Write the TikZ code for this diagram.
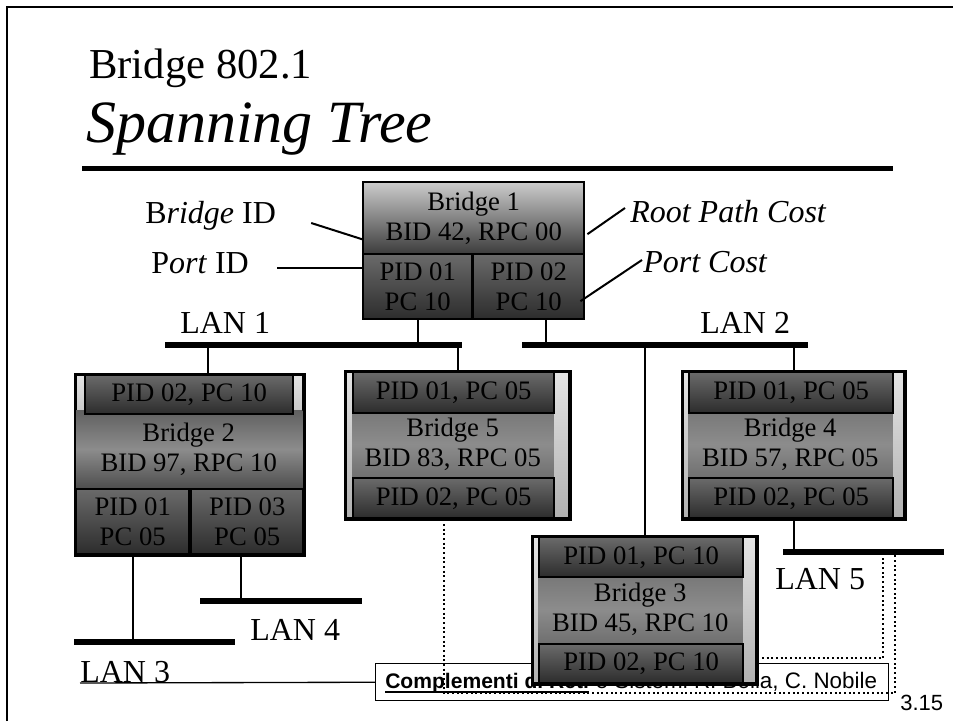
\documentclass[tikz,border=0pt]{standalone}
\usepackage{fontspec}
\setmainfont{Liberation Serif}
\setsansfont{Liberation Sans}
\usetikzlibrary{calc}
\definecolor{RootTop}{HTML}{CCCCCC}
\definecolor{RootBot}{HTML}{3C3C3C}
\definecolor{PortTop}{HTML}{6A6A6A}
\definecolor{PortBot}{HTML}{2C2C2C}
\definecolor{ShellTop}{HTML}{E4E4E4}
\definecolor{ShellBot}{HTML}{B0B0B0}
\definecolor{CoreTop}{HTML}{606060}
\definecolor{CoreMid}{HTML}{8C8C8C}
\definecolor{CoreBot}{HTML}{4E4E4E}
\newcommand\brfont{\fontsize{20}{22.5}\selectfont}
\newcommand\lblfont{\fontsize{24}{28}\selectfont}
\newcommand\px{0.75pt}

\begin{document}
\begin{tikzpicture}[x=0.75pt,y=-0.75pt,
  brbox/.style={anchor=north west,inner sep=0pt,align=center,font=\brfont},
  rootbox/.style={brbox,draw,line width=1.8pt,top color=RootTop,bottom color=RootBot},
  portbox/.style={brbox,draw,line width=1.8pt,top color=PortTop,bottom color=PortBot},
  shell/.style={brbox,draw,line width=1.8pt,top color=ShellTop,bottom color=ShellBot},
  core/.style={brbox,top color=CoreTop,bottom color=CoreBot,middle color=CoreMid},
  frm/.style={line width=1.8pt},
  wire/.style={line width=1.5pt},
  lan/.style={line width=4pt},
  blocked/.style={line width=1.5pt,dotted},
  lbl/.style={font=\lblfont,inner sep=0pt,anchor=base west}]

\useasboundingbox (0,0) rectangle (953,721);

\draw[line width=1.5pt] (7,721) -- (7,7) -- (953,7);

\node[anchor=base west,inner sep=0pt,font={\fontsize{32}{36}\selectfont}] (ttl1) at (89,78) {Bridge 802.1};
\node[anchor=base west,inner sep=0pt,font={\fontsize{45}{50}\selectfont\itshape}] (ttl2) at (86,142) {Spanning Tree};
\draw[line width=3.75pt] (82,168) -- (893,168);

\node[rootbox,minimum width=221*\px,minimum height=72*\px] (b1) at (362,181) {Bridge 1\\BID 42, RPC 00};
\node[portbox,minimum width=109*\px,minimum height=65*\px] (b1p1) at (362,253) {PID 01\\PC 10};
\node[portbox,minimum width=111*\px,minimum height=65*\px] (b1p2) at (472,253) {PID 02\\PC 10};

\node[lbl] (bidl) at (145,223) {B\textit{ridge} ID};
\node[lbl] (pidl) at (151,273) {P\textit{ort} ID};
\node[lbl] (rpcl) at (630,222) {\textit{Root Path Cost}};
\node[lbl] (pcl) at (643,272) {\textit{Port Cost}};

\draw[wire] ($(bidl.base east)+(35,0)$) -- ($(b1.west)+(0,21)$);
\draw[wire] ($(pidl.base east)+(28,-5)$) coordinate (pp) -- (pp -| b1p1.west);
\draw[wire] ($(b1.east)+(2,16)$) -- ($(rpcl.base west)+(-5,-14)$);
\draw[wire] ($(b1p2.east)+(-5,14.5)$) -- ($(pcl.base west)+(-1,-12)$);

\coordinate (lan1a) at (165,345);
\coordinate (lan1b) at (462,345);
\coordinate (lan2a) at (522,345);
\coordinate (lan2b) at (808,345);
\coordinate (lan3a) at (74,642);
\coordinate (lan3b) at (235,642);
\coordinate (lan4a) at (200,601);
\coordinate (lan4b) at (362,601);
\coordinate (lan5a) at (783,552);
\coordinate (lan5b) at (944,552);

\draw[lan] (lan1a) -- (lan1b);
\draw[lan] (lan2a) -- (lan2b);
\draw[lan] (lan3a) -- (lan3b);
\draw[lan] (lan4a) -- (lan4b);
\draw[lan] (lan5a) -- (lan5b);

\node[lbl] (lan1) at (180,333) {LAN 1};
\node[lbl] (lan2) at (700,333) {LAN 2};
\node[lbl] (lan3) at (80,682) {LAN 3};
\node[lbl] (lan4) at (250,640) {LAN 4};
\node[lbl] (lan5) at (775,589) {LAN 5};

\draw[wire] (b1p1.south) -- (b1p1.south |- lan1a);
\draw[wire] ($(b1p2.south)+(17,0)$) coordinate (q12) -- (q12 |- lan2a);

\node[shell,minimum width=227*\px,minimum height=179*\px,top color=ShellTop,bottom color=CoreTop] (b2) at (75,374) {};
\node[core,minimum width=227*\px,minimum height=78*\px] (b2c) at (75,410) {Bridge 2\\BID 97, RPC 10};
\node[portbox,minimum width=208*\px,minimum height=39*\px] (b2p2) at (84,374) {PID 02, PC 10};
\node[portbox,minimum width=113*\px,minimum height=65*\px] (b2p1) at (75,488) {PID 01\\PC 05};
\node[portbox,minimum width=112*\px,minimum height=65*\px] (b2p3) at (190,488) {PID 03\\PC 05};
\draw[frm] (b2.north west) rectangle (b2.south east);

\node[shell,minimum width=223*\px,minimum height=146*\px] (b5) at (345,371) {};
\node[core,minimum width=201*\px,minimum height=146*\px] (b5c) at (352,371) {Bridge 5\\BID 83, RPC 05};
\node[portbox,minimum width=201*\px,minimum height=41*\px] (b5p1) at (352,371) {PID 01, PC 05};
\node[portbox,minimum width=201*\px,minimum height=40*\px] (b5p2) at (352,477) {PID 02, PC 05};
\draw[frm] (b5.north west) rectangle (b5.south east);

\node[shell,minimum width=221*\px,minimum height=146*\px] (b4) at (682,371) {};
\node[core,minimum width=204*\px,minimum height=146*\px] (b4c) at (688,371) {Bridge 4\\BID 57, RPC 05};
\node[portbox,minimum width=204*\px,minimum height=41*\px] (b4p1) at (688,371) {PID 01, PC 05};
\node[portbox,minimum width=204*\px,minimum height=40*\px] (b4p2) at (688,477) {PID 02, PC 05};
\draw[frm] (b4.north west) rectangle (b4.south east);

\draw[wire] ($(b2p2.north)+(19,0)$) coordinate (q2) -- (q2 |- lan1a);
\draw[wire] (b5.north) -- (b5.north |- lan1a);
\draw[wire] (b4.north) -- (b4.north |- lan2a);
\draw[wire] (b4.south) -- (b4.south |- lan5a);
\draw[wire] (b2p1.south) -- (b2p1.south |- lan3a);
\draw[wire] ($(b2p3.south)+(-6,0)$) coordinate (q23) -- (q23 |- lan4a);

\node[draw,line width=1.1pt,fill=white,anchor=north west,inner sep=0pt,minimum width=513*\px,minimum height=37*\px] (foot) at (375,663) {};
\coordinate (footl) at (80,683);
\draw[line width=1pt] (footl) -- (foot.west);
\node[anchor=base west,inner sep=0pt,font={\sffamily\fontsize{15.8}{18}\selectfont\bfseries}] (ftb) at (385,688) {Complementi di Reti};
\node[anchor=base west,inner sep=0pt,font={\sffamily\fontsize{16.8}{18}\selectfont}] (ftr) at (ftb.base east) {\ e Sistemi R. Bolla, C. Nobile};
\draw[line width=2.2pt] ($(ftb.base west)+(0,4)$) -- ($(ftb.base east)+(0,4)$);
\node[anchor=base west,inner sep=0pt,font={\sffamily\fontsize{16.5}{18}\selectfont}] (pg) at (900,710) {3.15};

\node[shell,minimum width=223*\px,minimum height=146*\px] (b3) at (532,536) {};
\node[core,minimum width=204*\px,minimum height=146*\px] (b3c) at (538,536) {Bridge 3\\BID 45, RPC 10};
\node[portbox,minimum width=204*\px,minimum height=40*\px] (b3p1) at (538,536) {PID 01, PC 10};
\node[portbox,minimum width=204*\px,minimum height=39*\px] (b3p2) at (538,643) {PID 02, PC 10};
\draw[frm] (b3.north west) rectangle (b3.south east);
\draw[wire] (b3.north) -- (b3.north |- lan2a);

\coordinate (d1) at (895,693);
\coordinate (d2) at (883,658);
\draw[blocked] ($(b5p2.south)+(-10,0)$) |- (d1) -- (d1 |- lan5a);
\draw[blocked] (d2 -| b3.east) -- (d2) -- (d2 |- lan5a);

\end{tikzpicture}
\end{document}
